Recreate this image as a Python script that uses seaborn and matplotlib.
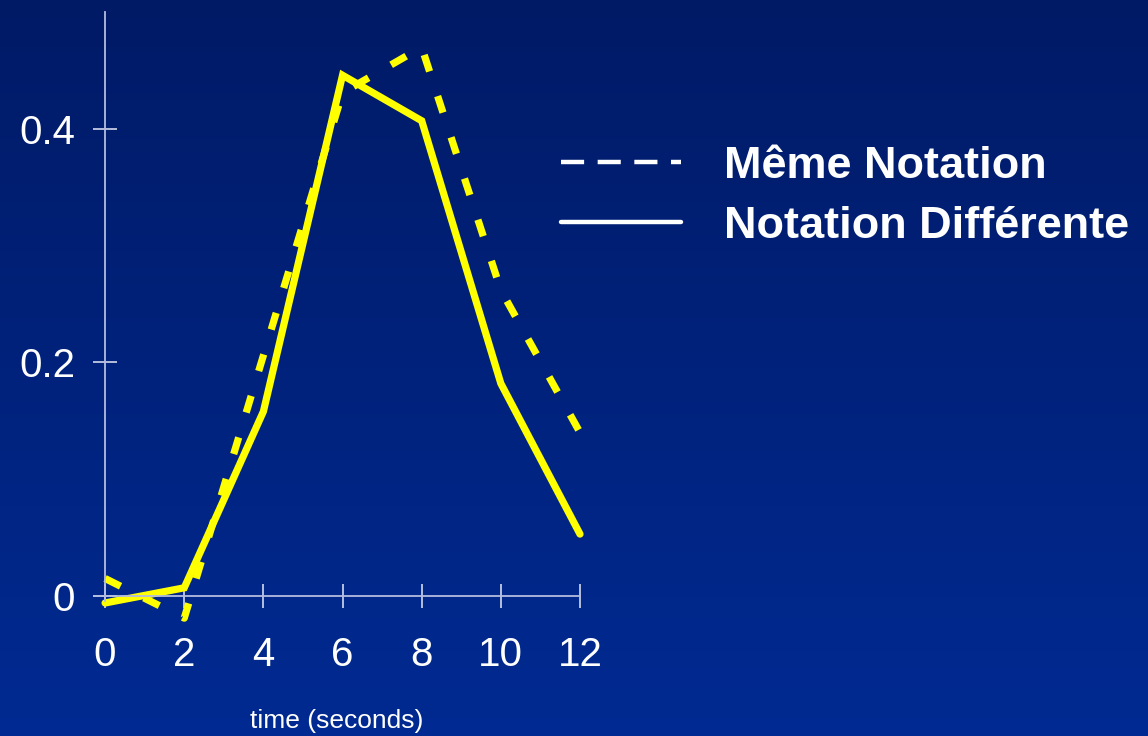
import numpy as np
import pandas as pd
import seaborn as sns
import matplotlib.pyplot as plt
from matplotlib.lines import Line2D

# values
time = [0, 2, 4, 6, 8, 10, 12]
meme_notation = [0.015, -0.019, 0.206, 0.431, 0.470, 0.262, 0.140]
notation_diff = [-0.006, 0.007, 0.158, 0.446, 0.407, 0.182, 0.053]
labels = ["Même Notation", "Notation Différente"]
x_ticks = [0, 2, 4, 6, 8, 10, 12]
y_ticks = [0, 0.2, 0.4]

sns.set_style("white")
plt.rcParams["font.family"] = ["Liberation Sans", "DejaVu Sans"]

data = pd.DataFrame({
    "time": time * 2,
    "value": meme_notation + notation_diff,
    "notation": [labels[0]] * len(time) + [labels[1]] * len(time),
})

fig = plt.figure(figsize=(11.48, 7.36), dpi=100)

# background gradient, dark navy on top to brighter blue at the bottom
bg = fig.add_axes([0, 0, 1, 1], zorder=-10)
top = np.array([0, 26, 102]) / 255
bottom = np.array([0, 42, 146]) / 255
grad = np.linspace(0, 1, 256)[:, None, None]
img = top + (bottom - top) * grad
bg.imshow(np.repeat(img, 2, axis=1), aspect="auto", extent=[0, 1, 0, 1])
bg.set_axis_off()

ax = fig.add_axes([94 / 1148, 105 / 736, 486 / 1148, 618.8 / 736])
ax.set_facecolor("none")

sns.lineplot(data=data, x="time", y="value", style="notation",
             dashes={labels[0]: (2.4, 3.6), labels[1]: ""},
             color="#ffff00", linewidth=5.2, ax=ax, legend=False,
             solid_capstyle="round", solid_joinstyle="miter", clip_on=False)

ax.set_xlim(-0.28, 12)
ax.set_ylim(-0.03, 0.5)

for side in ["top", "right"]:
    ax.spines[side].set_visible(False)
axis_col = "#b4bde0"
ax.spines["left"].set_position(("data", 0))
ax.spines["bottom"].set_position(("data", 0))
ax.spines["left"].set_bounds(-0.004, 0.5)
ax.spines["bottom"].set_bounds(-0.28, 12)
for side in ["left", "bottom"]:
    ax.spines[side].set_color(axis_col)
    ax.spines[side].set_linewidth(1.3)

ax.set_xticks(x_ticks)
ax.set_yticks(y_ticks)
ax.set_xticklabels([str(t) for t in x_ticks])
ax.set_yticklabels(["0", "0.2", "0.4"])
ax.tick_params(axis="both", direction="inout", length=17, width=1.1,
               color="#e6e9f5", labelcolor="white", labelsize=29,
               bottom=True, left=True)
ax.tick_params(axis="y", pad=13)
ax.tick_params(axis="x", pad=20)

ax.set_xlabel("time (seconds)", color="white", fontsize=19)
ax.xaxis.set_label_coords(0.5, -0.126)
ax.set_ylabel("")

handles = [
    Line2D([], [], color="white", linewidth=3.2, dashes=(5.2, 3.05)),
    Line2D([], [], color="white", linewidth=3.2),
]
leg = fig.legend(handles, labels, loc="upper left",
                 bbox_to_anchor=(543 / 1148, 1 - 128 / 736),
                 frameon=False, handlelength=2.65, handletextpad=0.95,
                 labelspacing=0.42, borderaxespad=0,
                 prop={"size": 32.5, "weight": "bold"})
for t in leg.get_texts():
    t.set_color("white")

plt.savefig("out.png", dpi=100)
